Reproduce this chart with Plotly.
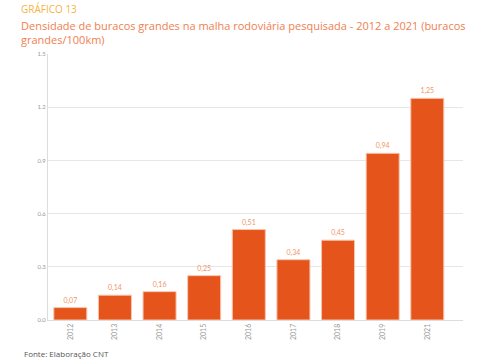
import plotly.graph_objects as go

anos = ["2012", "2013", "2014", "2015", "2016", "2017", "2018", "2019", "2021"]
valores = [0.07, 0.14, 0.16, 0.25, 0.51, 0.34, 0.45, 0.94, 1.25]
rotulos = ["0,07", "0,14", "0,16", "0,25", "0,51", "0,34", "0,45", "0,94", "1,25"]
ticks_y = [0.0, 0.3, 0.6, 0.9, 1.2, 1.5]
ticks_y_txt = ["0.0", "0.3", "0.6", "0.9", "1.2", "1.5"]
titulo = "GRÁFICO 13"
subtitulo = "Densidade de buracos grandes na malha rodoviária pesquisada - 2012 a 2021 (buracos<br>grandes/100km)"
fonte = "Fonte: Elaboração CNT"

L, T, R, B = 48, 54, 22, 40
W, H = 485, 360
PW, PH = W - L - R, H - T - B


def py(ypix):
    return 1 + (T - ypix) / PH


def px(xpix):
    return (xpix - L) / PW


fig = go.Figure(go.Bar(
    x=list(range(len(anos))), y=valores, text=rotulos, textposition="outside",
    textfont=dict(size=7, color="#F29467"),
    marker=dict(color="#E5541A", line=dict(color="#F7C6B0", width=1)),
    cliponaxis=False,
))

fig.update_layout(
    width=W, height=H,
    margin=dict(l=L, r=R, t=T, b=B, autoexpand=False),
    paper_bgcolor="white", plot_bgcolor="white",
    font=dict(family="Lato", color="#999"),
    bargap=0.26, showlegend=False,
    xaxis=dict(tickmode="array", tickvals=list(range(len(anos))), ticktext=anos,
               tickangle=-90, tickfont=dict(size=7, color="#999"),
               range=[-0.5, 8.8], showgrid=False, showline=True,
               linecolor="#ddd", linewidth=1, ticks=""),
    yaxis=dict(range=[0, 1.5], tickvals=ticks_y, ticktext=ticks_y_txt,
               tickfont=dict(size=6, color="#999"), showgrid=True,
               gridcolor="#e6e6e6", gridwidth=1, showline=True,
               linecolor="#ddd", zeroline=False, ticks=""),
)
fig.add_annotation(text=titulo, xref="paper", yref="paper", x=px(19), y=py(9),
                   xanchor="left", yanchor="middle", showarrow=False,
                   font=dict(size=10, color="#F5B342", family="Open Sans"))
fig.add_annotation(text=subtitulo, xref="paper", yref="paper", x=px(19), y=py(16),
                   xanchor="left", yanchor="top", showarrow=False, align="left",
                   font=dict(size=11, color="#F0804F", family="Open Sans"))
fig.add_annotation(text=fonte, xref="paper", yref="paper", x=px(22), y=py(353),
                   xanchor="left", yanchor="middle",
                   showarrow=False, font=dict(size=8, color="#555", family="Open Sans"))

fig.write_html("out.html", config={"displayModeBar": False},
               post_script="document.body.style.margin='0';")
